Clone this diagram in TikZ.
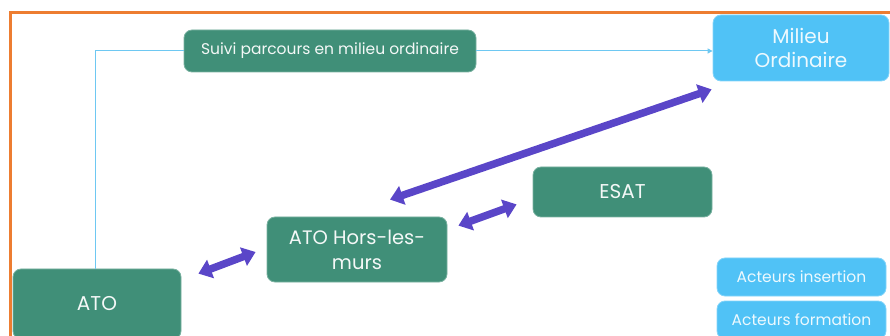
\documentclass[tikz,border=0pt]{standalone}
\usepackage{fontspec}
\setmainfont{Poppins}
\usetikzlibrary{arrows.meta,calc}
\definecolor{boxgreen}{RGB}{64,143,120}
\definecolor{boxblue}{RGB}{80,194,246}
\definecolor{linkblue}{RGB}{110,200,242}
\definecolor{purp}{RGB}{90,70,200}
\definecolor{frameor}{RGB}{237,125,49}
\tikzset{
  gbox/.style={rectangle, rounded corners=8pt, fill=boxgreen, draw=boxgreen!70!white, line width=0.8pt, text=white!94!boxgreen, align=center, inner sep=0pt},
  bbox/.style={rectangle, rounded corners=8pt, fill=boxblue, draw=boxblue!70!white, line width=0.8pt, text=white!90!boxblue, align=center, inner sep=0pt},
  thinlink/.style={draw=linkblue, line width=1pt},
  bigarrow/.style={draw=purp, line width=7.5pt, {Triangle[width=19pt,length=13pt]}-{Triangle[width=19pt,length=13pt]}}
}
\begin{document}
\begin{tikzpicture}[x=1pt,y=-1pt]
\useasboundingbox (0,0) rectangle (890,336);
\clip (0,0) rectangle (890,336);
\draw[frameor, line width=3pt] (10,13) rectangle (900,350);
% nodes
\node[gbox, minimum width=292pt, minimum height=42pt, font=\fontsize{15.5}{18}\selectfont] (suivi) at (330,51) {Suivi parcours en milieu ordinaire};
\node[bbox, minimum width=176pt, minimum height=66pt, font=\fontsize{20}{24}\selectfont] (milieu) at (801,48) {Milieu\\Ordinaire};
\node[gbox, minimum width=168pt, minimum height=70pt, font=\fontsize{20}{24}\selectfont] (ato) at (97,304) {ATO};
\node[gbox, minimum width=180pt, minimum height=65pt, font=\fontsize{19.5}{25}\selectfont] (hlm) at (357,249.5) {ATO Hors-les-\\murs};
\node[gbox, minimum width=179pt, minimum height=50pt, font=\fontsize{20}{24}\selectfont] (esat) at (622.5,192) {ESAT};
\node[bbox, minimum width=169pt, minimum height=38pt, font=\fontsize{15.5}{18}\selectfont] (ains) at (801.5,277) {Acteurs insertion};
\node[bbox, minimum width=169pt, minimum height=38pt, font=\fontsize{15.5}{18}\selectfont] (aform) at (801.5,320) {Acteurs formation};
% thin connectors
\coordinate (bend) at (95,51);
\draw[thinlink] (ato.north -| bend) -- (bend) -- (suivi.west);
\draw[thinlink, -{Triangle[width=5pt,length=5pt]}] (suivi.east) -- (milieu.west |- suivi.east);
% purple double arrows
\draw[bigarrow] ($(ato.north east)+(17,5)$) -- ($(hlm.west)+(-11,2.5)$);
\draw[bigarrow] ($(hlm.north east)+(11,9)$) -- ($(esat.south west)+(-16,-13)$);
\draw[bigarrow] ($(hlm.north)+(33,-17)$) -- ($(milieu.south west)+(-1,8)$);
\end{tikzpicture}
\end{document}
